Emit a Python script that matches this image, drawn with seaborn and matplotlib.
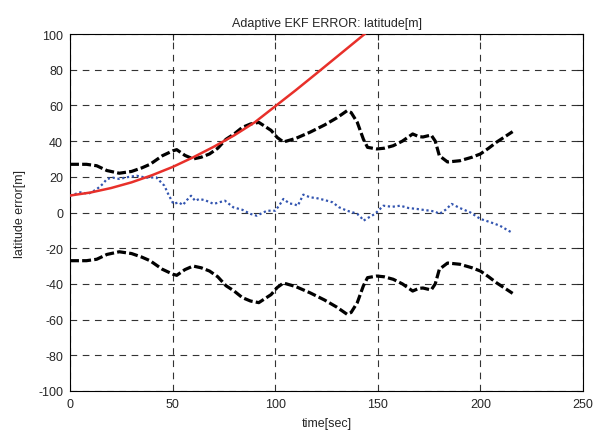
import matplotlib
matplotlib.use("Agg")
import matplotlib.pyplot as plt
import seaborn as sns
import pandas as pd

# ---- data ----
bound_t = [0, 8, 13, 18, 24, 30, 35, 39, 45, 50, 52, 56, 60, 64, 68, 72, 76, 80, 84, 88,
           92, 94, 98, 101, 104, 110, 117, 124, 130, 135, 137, 140, 143, 145, 149.5, 153,
           157.5, 162, 167, 170, 172, 176, 178, 180, 184, 190, 196, 200, 204, 208, 212, 215.7]
upper_v = [27, 27, 26.2, 23.5, 22, 23, 25, 27, 31.8, 34.5, 35.2, 32, 30, 31, 32.8, 36, 41, 44, 47.7, 49.6,
           50.5, 49, 46, 42, 39.5, 41.5, 45, 49, 53, 57, 56, 50.5, 41, 36.5, 35.6, 36,
           37.4, 40, 44, 42.5, 42.3, 43.4, 40, 31.8, 28.3, 29, 31, 32.8, 36, 39.5, 42.5, 45.3]
lower_v = [-27, -27, -26.2, -23.5, -22, -23, -25, -27, -31.8, -34.5, -35.2, -32, -30, -31, -32.8, -36, -41, -44, -47.7, -49.6,
           -50.5, -49, -46, -42, -39.5, -41.5, -45, -49, -53, -57, -56, -50.5, -41, -36.5, -35.6, -36,
           -37.4, -40, -44, -42.5, -42.3, -43.4, -40, -31.8, -28.3, -29, -31, -32.8, -36, -39.5, -42.5, -45.3]

red_t = [0, 10, 20, 30, 40, 50, 60, 70, 80, 90, 100, 110, 120, 130, 140, 150]
red_v = [9.5, 11.2, 13.7, 16.9, 20.9, 25.5, 30.9, 36.8, 43.2, 50.5, 59.5, 68.5, 77.8, 87.2, 96.6, 106.0]

blue_t = [0, 5, 9, 13, 16, 18, 21, 24, 28, 32.5, 37, 42, 46, 48, 50.4, 53, 55, 57, 59, 61, 63,
          66, 70, 73, 75.5, 79.6, 84, 88, 91, 96, 100, 102, 104, 107, 109, 111, 113.7, 117,
          120, 124, 128, 131, 135, 138, 140, 142, 143, 146, 148.6, 152.7, 157, 161, 165, 169,
          172, 175.4, 178, 180, 183, 186, 190, 195, 200, 205, 209.5, 215.7]
blue_v = [9.4, 11.3, 10.5, 13, 16, 18.8, 19.5, 18.8, 19.8, 20.6, 19.5, 19.7, 15, 10, 4.8, 5.7, 4.2, 7, 9.4, 6.5, 7.6,
          6.8, 4.8, 5.8, 6.6, 2.9, 1.5, -0.8, -1.8, 1, 1, 4, 7.6, 5, 4.8, 3.8, 10, 8.5,
          8.1, 7, 5.7, 3, 1, 0, -0.8, -3, -4.6, -2.5, -0.8, 3.8, 3.2, 3.8, 2.5, 2,
          1.5, 1, 0.5, -0.8, 1.5, 4.8, 2.5, 0.1, -3.6, -5.5, -7.4, -11.5]

x_ticks = [0, 50, 100, 150, 200, 250]
y_ticks = [-100, -80, -60, -40, -20, 0, 20, 40, 60, 80, 100]

sns.set_style("white")
plt.rcParams['font.family'] = ['Liberation Sans', 'DejaVu Sans']
plt.rcParams['axes.unicode_minus'] = False

fig = plt.figure(figsize=(6.08, 4.35), dpi=100)
ax = fig.add_axes([70/608, 1-392/435, 513/608, 357/435])

up = pd.DataFrame({"t": bound_t, "v": upper_v})
lo = pd.DataFrame({"t": bound_t, "v": lower_v})
rd = pd.DataFrame({"t": red_t, "v": red_v})
bl = pd.DataFrame({"t": blue_t, "v": blue_v})

sns.lineplot(data=bl, x="t", y="v", ax=ax, color="#3355b0", linewidth=1.6,
             linestyle=(0, (1, 1.2)), sort=False, estimator=None, zorder=3)
sns.lineplot(data=up, x="t", y="v", ax=ax, color="black", linewidth=2.3,
             linestyle=(0, (2.8, 1.0)), sort=False, estimator=None, zorder=4)
sns.lineplot(data=lo, x="t", y="v", ax=ax, color="black", linewidth=2.3,
             linestyle=(0, (2.8, 1.0)), sort=False, estimator=None, zorder=4)
sns.lineplot(data=rd, x="t", y="v", ax=ax, color="#e8302a", linewidth=1.8,
             sort=False, estimator=None, zorder=5)

ax.set_xlim(0, 250)
ax.set_ylim(-100, 100)
ax.set_xticks(x_ticks)
ax.set_yticks(y_ticks)
ax.grid(True, color="#333333", linestyle=(0, (6, 5)), linewidth=0.8)
ax.tick_params(direction="in", length=4, top=True, right=True, labelsize=9, width=0.8, pad=5)
for s in ax.spines.values():
    s.set_color("black")
    s.set_linewidth(0.8)

ax.set_title("Adaptive EKF ERROR: latitude[m]", fontsize=9, pad=6)
ax.set_xlabel("time[sec]", fontsize=9, labelpad=5)
ax.set_ylabel("latitude error[m]", fontsize=9, labelpad=9)

fig.savefig("out.png", dpi=100, facecolor="white")
